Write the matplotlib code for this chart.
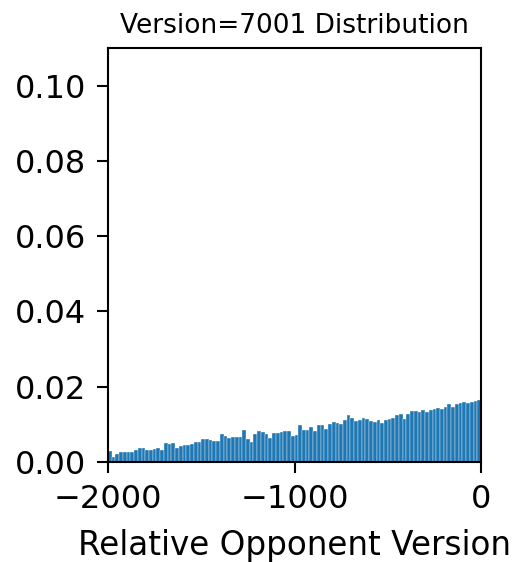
import matplotlib
matplotlib.use("Agg")
import matplotlib.pyplot as plt
import numpy as np

bin_left = -2000
bin_width = 20
heights = [
    0.0028, 0.0013, 0.0020, 0.0027, 0.0027, 0.0026, 0.0027, 0.0032, 0.0038, 0.0036,
    0.0031, 0.0033, 0.0035, 0.0038, 0.0032, 0.0050, 0.0048, 0.0050, 0.0037, 0.0043,
    0.0045, 0.0045, 0.0047, 0.0052, 0.0054, 0.0060, 0.0061, 0.0059, 0.0057, 0.0055,
    0.0073, 0.0068, 0.0064, 0.0066, 0.0067, 0.0066, 0.0085, 0.0062, 0.0054, 0.0075,
    0.0081, 0.0079, 0.0074, 0.0063, 0.0076, 0.0078, 0.0080, 0.0082, 0.0081, 0.0070,
    0.0071, 0.0097, 0.0086, 0.0085, 0.0094, 0.0082, 0.0098, 0.0097, 0.0087, 0.0102,
    0.0105, 0.0104, 0.0102, 0.0111, 0.0124, 0.0116, 0.0110, 0.0112, 0.0116, 0.0115,
    0.0109, 0.0106, 0.0112, 0.0103, 0.0111, 0.0115, 0.0118, 0.0124, 0.0128, 0.0113,
    0.0128, 0.0135, 0.0136, 0.0134, 0.0138, 0.0133, 0.0138, 0.0142, 0.0143, 0.0142,
    0.0147, 0.0153, 0.0147, 0.0154, 0.0156, 0.0159, 0.0158, 0.0160, 0.0163, 0.0164,
]
x_ticks = [-2000, -1000, 0]
y_ticks = [0.00, 0.02, 0.04, 0.06, 0.08, 0.10]

lefts = bin_left + bin_width * np.arange(len(heights))

fig = plt.figure(figsize=(5.2, 5.62), dpi=100)
ax = fig.add_axes([0.2077, 0.178, 0.7173, 0.7366])
ax.bar(lefts, heights, width=bin_width, align="edge", color="#1f77b4",
       edgecolor="white", linewidth=0.25)
ax.set_xlim(-2000, 0)
ax.set_ylim(0, 0.11)
ax.set_xticks(x_ticks)
ax.set_yticks(y_ticks)
ax.set_yticklabels([f"{v:.2f}" for v in y_ticks])
ax.tick_params(labelsize=23, length=8, width=1.5)
ax.tick_params(axis="x", pad=8)
ax.tick_params(axis="y", pad=8)
for spine in ax.spines.values():
    spine.set_linewidth(1.5)
ax.set_title("Version=7001 Distribution", fontsize=19, pad=11)
ax.set_xlabel("Relative Opponent Version", fontsize=23.5, labelpad=10)
fig.savefig("out.png", dpi=100)
